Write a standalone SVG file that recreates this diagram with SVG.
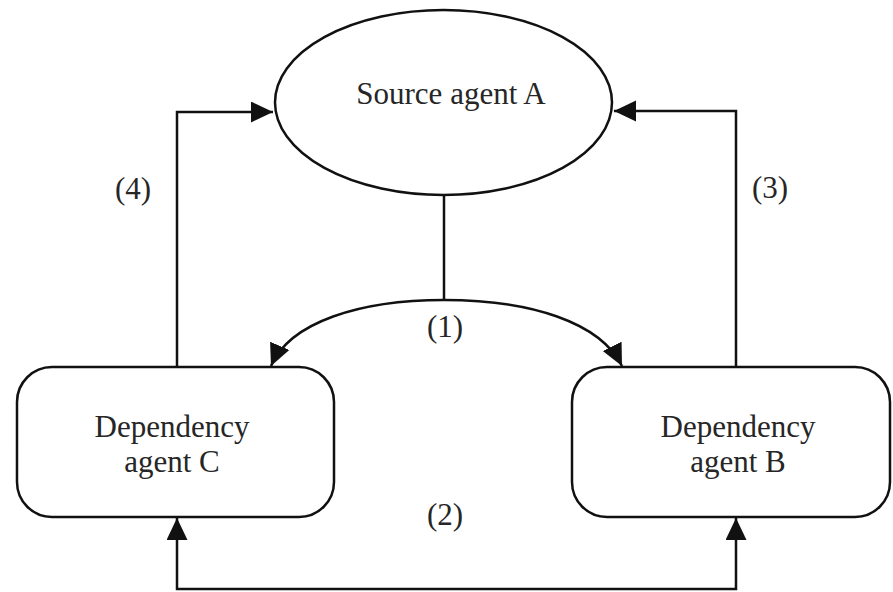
<svg xmlns="http://www.w3.org/2000/svg" width="893" height="592" viewBox="0 0 893 592">
  <style>
    .shape { fill: #ffffff; stroke: #111111; stroke-width: 2.5; }
    .wire { fill: none; stroke: #111111; stroke-width: 2.5; }
    .label { font-family: "Liberation Serif", "Times New Roman", serif; font-size: 31px; fill: #262626; text-anchor: middle; }
  </style>
  <defs>
    <marker id="arrow" markerUnits="userSpaceOnUse" markerWidth="24" markerHeight="22" refX="22" refY="10.5" orient="auto-start-reverse">
      <path d="M0,0 L22,10.5 L0,21 Z" fill="#111111"/>
    </marker>
  </defs>

  <rect width="893" height="592" fill="#ffffff"/>

  <g id="connectors">
    <!-- (1) split from A down to B and C -->
    <path class="wire" d="M444,195 L444,300"/>
    <path class="wire" d="M444,300 C360,300 290,322 271,366" marker-end="url(#arrow)"/>
    <path class="wire" d="M444,300 C530,300 600,322 622,366" marker-end="url(#arrow)"/>
    <!-- (4) C back to A -->
    <path class="wire" d="M177,367 L177,112 L273,112" marker-end="url(#arrow)"/>
    <!-- (3) B back to A -->
    <path class="wire" d="M736,367 L736,111 L614,111" marker-end="url(#arrow)"/>
    <!-- (2) between C and B -->
    <path class="wire" d="M177,518 L177,589 L736,589 L736,518" marker-start="url(#arrow)" marker-end="url(#arrow)"/>
  </g>

  <g id="source-agent-a">
    <ellipse class="shape" cx="443.5" cy="102.5" rx="168.5" ry="92.5"/>
    <text class="label" x="451" y="104">Source agent A</text>
  </g>

  <g id="dependency-agent-c">
    <rect class="shape" x="17" y="367" width="317" height="150" rx="35" ry="35"/>
    <text class="label" x="172" y="437">Dependency</text>
    <text class="label" x="172" y="472">agent C</text>
  </g>

  <g id="dependency-agent-b">
    <rect class="shape" x="572" y="367" width="318" height="150" rx="35" ry="35"/>
    <text class="label" x="738" y="437">Dependency</text>
    <text class="label" x="738" y="472">agent B</text>
  </g>

  <g id="step-labels">
    <text class="label" x="445" y="337">(1)</text>
    <text class="label" x="445" y="525">(2)</text>
    <text class="label" x="770" y="198">(3)</text>
    <text class="label" x="133" y="199">(4)</text>
  </g>
</svg>
